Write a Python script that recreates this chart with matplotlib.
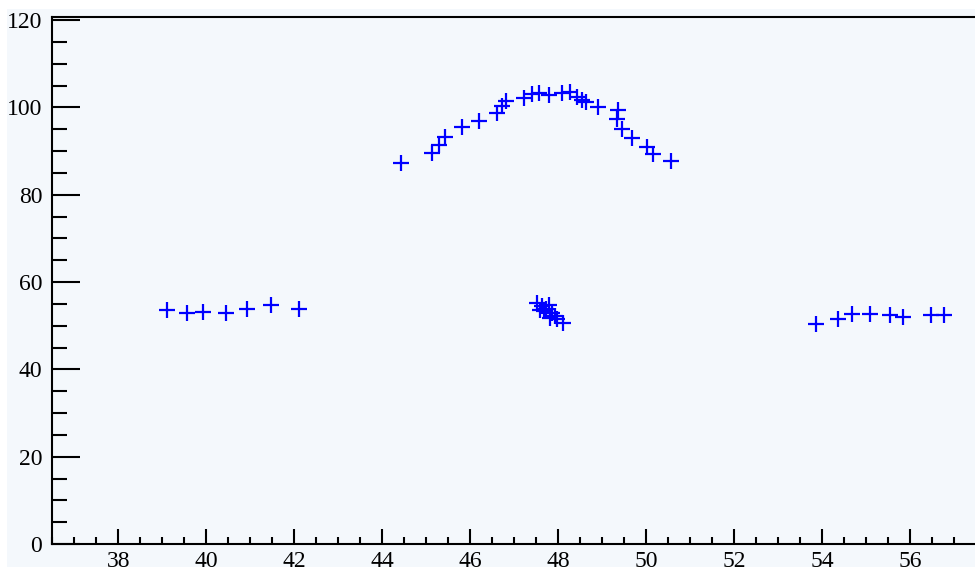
import matplotlib
matplotlib.use("Agg")
import matplotlib.pyplot as plt
from matplotlib.patches import Rectangle
from matplotlib.ticker import MultipleLocator

# flat plateau on the left
left_x = [39.11, 39.57, 39.93, 40.45, 40.92, 41.47, 42.11]
left_y = [53.5, 53.0, 53.2, 53.0, 53.8, 54.8, 53.8]

# arc across the middle
arc_x = [44.42, 45.14, 45.28, 45.43, 45.81, 46.21, 46.62, 46.72, 46.82, 47.22,
         47.40, 47.57, 47.80, 48.08, 48.27, 48.42, 48.54, 48.63, 48.91, 49.37,
         49.35, 49.45, 49.67, 50.01, 50.15, 50.56]
arc_y = [87.2, 89.5, 91.4, 93.3, 95.5, 96.8, 98.8, 100.3, 101.6, 102.1,
         103.1, 103.3, 102.9, 103.4, 103.6, 102.5, 101.7, 101.3, 100.2, 99.4,
         97.3, 95.0, 92.9, 90.9, 89.3, 87.8]

# tight cluster under the arc
mid_x = [47.52, 47.63, 47.73, 47.79, 47.68, 47.59, 47.86, 47.93, 47.82, 47.97, 48.11]
mid_y = [55.2, 54.5, 53.8, 54.8, 53.4, 53.6, 52.9, 52.2, 51.8, 51.5, 50.6]

# plateau on the right
right_x = [53.86, 54.37, 54.68, 55.09, 55.55, 55.85, 56.49, 56.78]
right_y = [50.3, 51.6, 52.6, 52.7, 52.4, 52.1, 52.5, 52.5]

BG = "#f4f8fc"
W, H = 975, 573

plt.rcParams["font.family"] = ["Liberation Serif", "DejaVu Serif"]

fig = plt.figure(figsize=(W / 100, H / 100), dpi=100)
fig.patch.set_facecolor("white")
# pale panel behind the plot, leaving a thin white rim
fig.patches.append(Rectangle((7 / W, 6 / H), 1 - 7 / W, (H - 15) / H,
                             transform=fig.transFigure, facecolor=BG,
                             edgecolor="none", zorder=-10))

ax = fig.add_axes([52 / W, 29 / H, (W - 52) / W, (544 - 16.7) / H])
ax.set_facecolor(BG)

for xs, ys in [(left_x, left_y), (arc_x, arc_y), (mid_x, mid_y), (right_x, right_y)]:
    ax.plot(xs, ys, linestyle="none", marker="+", markersize=12,
            markeredgewidth=1.6, color="#0000ff")

ax.set_xlim(36.49, 57.48)
ax.set_ylim(0, 120.8)

ax.xaxis.set_major_locator(MultipleLocator(2))
ax.xaxis.set_minor_locator(MultipleLocator(0.5))
ax.yaxis.set_major_locator(MultipleLocator(20))
ax.yaxis.set_minor_locator(MultipleLocator(5))

ax.tick_params(axis="both", which="both", direction="in", width=1.5,
               colors="black", labelsize=17)
ax.tick_params(axis="x", which="major", length=11, pad=5)
ax.tick_params(axis="x", which="minor", length=5)
ax.tick_params(axis="y", which="major", length=20, pad=7)
ax.tick_params(axis="y", which="minor", length=11)

for side in ["left", "bottom", "top"]:
    ax.spines[side].set_linewidth(1.5)
    ax.spines[side].set_color("black")
ax.spines["right"].set_visible(False)

fig.savefig("out.png", dpi=100, facecolor=fig.get_facecolor())
